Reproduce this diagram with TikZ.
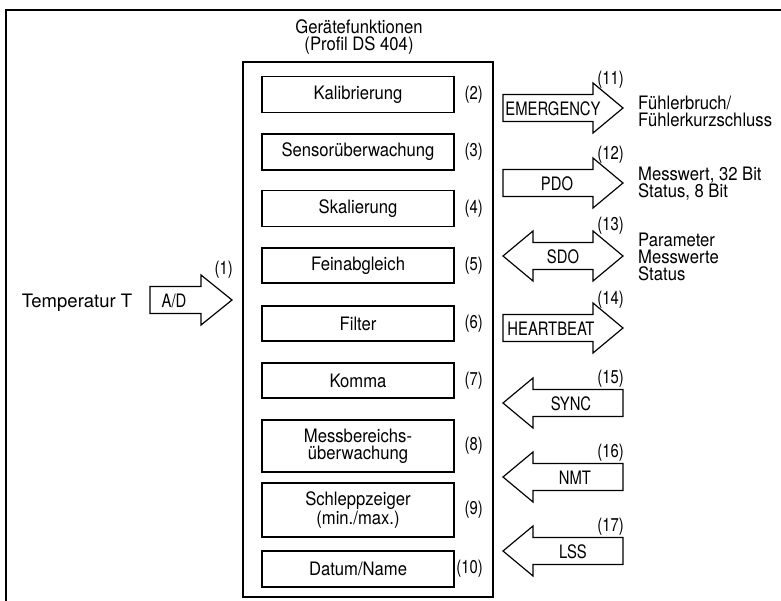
\documentclass[tikz,border=0pt]{standalone}
\usepackage{fontspec}
\setmainfont{TeX Gyre Heros}[FakeStretch=0.9]
\newfontfamily\narrowfont{TeX Gyre Heros}[FakeStretch=0.8]
\newfontfamily\plainfont{TeX Gyre Heros}

\begin{document}
\begin{tikzpicture}[x=1pt, y=-1pt,
  every node/.style={font=\fontsize{18.5}{17}\selectfont, inner sep=0pt},
  funcbox/.style={draw, line width=1.2pt, minimum width=192pt, align=center},
  blockarrow/.style={draw, line width=1.2pt, line join=miter},
  arrlabel/.style={font=\narrowfont\fontsize{18.5}{17}\selectfont},
  nrlabel/.style={anchor=east, font=\narrowfont\fontsize{18.5}{17}\selectfont}]
  \useasboundingbox (0,0) rectangle (781,601);
  % Frame
  \draw[line width=1.5pt] (6,601) -- (6,10) -- (781,10);
  % Device functions (profile DS 404)
  \node[draw, line width=1.5pt, minimum width=250pt, minimum height=535pt] (geraet) at (368,329.5) {};
  \node[align=center] (titel) at (359,37) {Gerätefunktionen\\(Profil DS 404)};
  \foreach \name/\y/\h/\txt/\nr in {kal/94.5/36/Kalibrierung/2,
      sens/152/36/Sensorüberwachung/3, skal/208.5/36/Skalierung/4,
      fein/265.5/35/Feinabgleich/5, filt/323.5/35/Filter/6,
      komma/380.5/35/Komma/7, mess/446/52/{Messbereichs-\\überwachung}/8,
      schlepp/510/54/{Schleppzeiger\\(min./max.)}/9, datum/569/36/{Datum/Name}/10}
  {
    \node[funcbox, minimum height=\h pt] (\name) at (358,\y) {\txt};
    \node[nrlabel] (nr\nr) at (483,\y) {(\nr)};
  }
  % Input: temperature via A/D
  \node[font=\plainfont\fontsize{18.5}{17}\selectfont] (temp) at (77,303) {Temperatur T};
  \draw[blockarrow] (150,286.5) -- (201,286.5) -- (201,275) -- (232,300)
    -- (201,325) -- (201,313.5) -- (150,313.5) -- cycle;
  \node[arrlabel] (ad) at (174,301) {A/D};
  \node[nrlabel] (nr1) at (233,270) {(1)};
  % Outgoing services
  \foreach \name/\c/\txt/\tx/\nr in {emcy/108/EMERGENCY/553/11, pdo/183/PDO/557/12,
      hb/328/HEARTBEAT/551/14}
  {
    \draw[blockarrow] (503,\c-13.5) -- (593,\c-13.5) -- (593,\c-25) -- (623,\c)
      -- (593,\c+25) -- (593,\c+13.5) -- (503,\c+13.5) -- cycle;
    \node[arrlabel] (\name) at (\tx,\c+1) {\txt};
    \node[nrlabel] (nr\nr) at (624,\c-28) {(\nr)};
  }
  % SDO in both directions
  \draw[blockarrow] (503,256) -- (533,231) -- (533,242.5) -- (593,242.5) -- (593,231)
    -- (623,256) -- (593,281) -- (593,269.5) -- (533,269.5) -- (533,281) -- cycle;
  \node[arrlabel] (sdo) at (563,257) {SDO};
  \node[nrlabel] (nr13) at (624,226) {(13)};
  % Incoming services
  \foreach \name/\c/\txt/\tx/\nr in {sync/403/SYNC/571/15, nmt/477/NMT/575/16,
      lss/551/LSS/573/17}
  {
    \draw[blockarrow] (623,\c-13.5) -- (533,\c-13.5) -- (533,\c-25) -- (503,\c)
      -- (533,\c+25) -- (533,\c+13.5) -- (623,\c+13.5) -- cycle;
    \node[arrlabel] (\name) at (\tx,\c+1) {\txt};
    \node[nrlabel] (nr\nr) at (624,\c-24) {(\nr)};
  }
  % Contents of the messages
  \node[anchor=west, align=left] (emcytxt) at (638,111) {Fühlerbruch/\\Fühlerkurzschluss};
  \node[anchor=west, align=left] (pdotxt) at (638,184) {Messwert, 32 Bit\\Status, 8 Bit};
  \node[anchor=west, align=left] (sdotxt) at (638,257) {Parameter\\Messwerte\\Status};
\end{tikzpicture}
\end{document}
